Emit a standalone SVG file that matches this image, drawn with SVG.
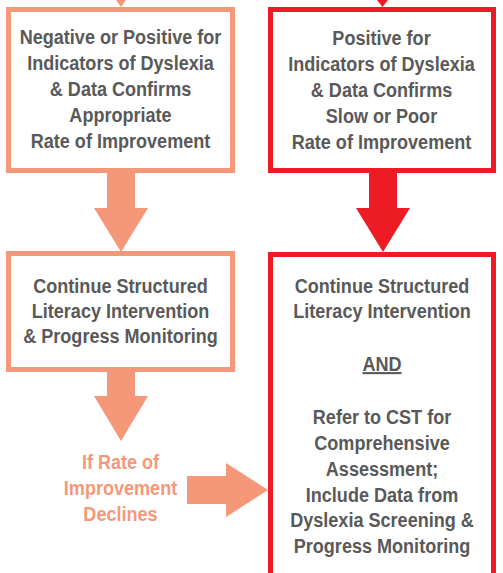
<svg xmlns="http://www.w3.org/2000/svg" width="503" height="573" viewBox="0 0 503 573">
<style>
.bl{fill:#fff;stroke:#F5987A;stroke-width:5}
.br{fill:#fff;stroke:#ED1C24;stroke-width:5}
.al{fill:#F5987A}
.ar{fill:#ED1C24}
text{font-family:"Liberation Sans",Arial,sans-serif;font-weight:bold;font-size:21px;text-anchor:middle}
.t{fill:#595959}
.s{fill:#F5987A}
</style>
<rect width="503" height="573" fill="#fff"/>
<g id="connectors">
<polygon class="al" points="116,0 126,0 121,7"/>
<polygon class="ar" points="377,0 388,0 382.5,7"/>
<polygon class="al" points="107,172 135,172 135,208 148,208 121,252 94,208 107,208"/>
<polygon class="ar" points="369,172 397,172 397,208 410,208 383,252 356,208 369,208"/>
<polygon class="al" points="107,371 135,371 135,396 148,396 121,441 94,396 107,396"/>
<polygon class="al" points="187,476 226,476 226,463 268,490 226,517 226,504 187,504"/>
</g>
<g id="node-left-top">
<rect class="bl" x="8.5" y="9.5" width="224" height="161"/>
<g transform="translate(120.5 0) scale(0.86 1)">
<text class="t" x="0" y="44">Negative or Positive for</text>
<text class="t" x="0" y="70">Indicators of Dyslexia</text>
<text class="t" x="0" y="96">&amp; Data Confirms</text>
<text class="t" x="0" y="122">Appropriate</text>
<text class="t" x="0" y="148">Rate of Improvement</text>
</g>
</g>
<g id="node-right-top">
<rect class="br" x="270.5" y="9.5" width="223" height="161"/>
<g transform="translate(381.5 0) scale(0.86 1)">
<text class="t" x="0" y="45">Positive for</text>
<text class="t" x="0" y="71">Indicators of Dyslexia</text>
<text class="t" x="0" y="97">&amp; Data Confirms</text>
<text class="t" x="0" y="123">Slow or Poor</text>
<text class="t" x="0" y="149">Rate of Improvement</text>
</g>
</g>
<g id="node-left-bottom">
<rect class="bl" x="8.5" y="253.5" width="224" height="116"/>
<g transform="translate(120.5 0) scale(0.86 1)">
<text class="t" x="0" y="293">Continue Structured</text>
<text class="t" x="0" y="318">Literacy Intervention</text>
<text class="t" x="0" y="343">&amp; Progress Monitoring</text>
</g>
</g>
<g id="node-declines">
<g transform="translate(120.5 0) scale(0.86 1)">
<text class="s" x="0" y="469">If Rate of</text>
<text class="s" x="0" y="495">Improvement</text>
<text class="s" x="0" y="521">Declines</text>
</g>
</g>
<g id="node-right-bottom">
<rect class="br" x="270.5" y="254.5" width="223" height="323"/>
<g transform="translate(382 0) scale(0.86 1)">
<text class="t" x="0" y="293">Continue Structured</text>
<text class="t" x="0" y="318">Literacy Intervention</text>
<text class="t" x="0" y="371" text-decoration="underline">AND</text>
<text class="t" x="0" y="424">Refer to CST for</text>
<text class="t" x="0" y="450">Comprehensive</text>
<text class="t" x="0" y="476">Assessment;</text>
<text class="t" x="0" y="502">Include Data from</text>
<text class="t" x="0" y="527">Dyslexia Screening &amp;</text>
<text class="t" x="0" y="553">Progress Monitoring</text>
</g>
</g>
</svg>
